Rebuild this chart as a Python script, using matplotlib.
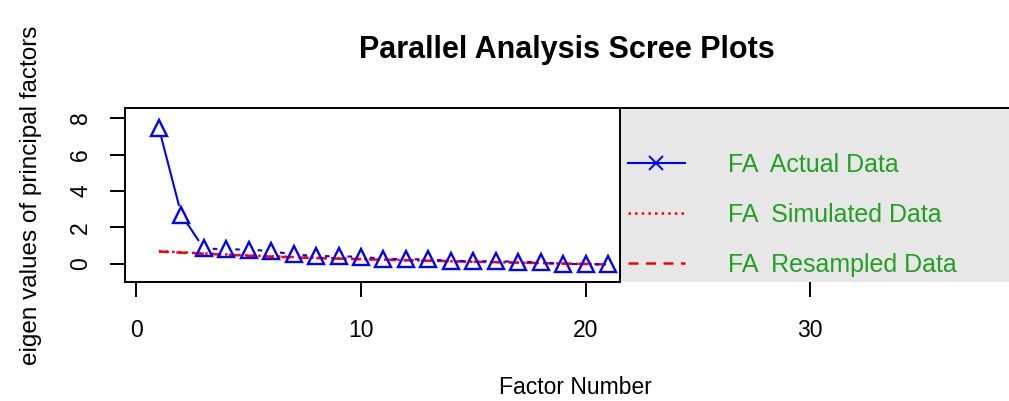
import numpy as np
import matplotlib
matplotlib.use("Agg")
import matplotlib.pyplot as plt
from matplotlib.lines import Line2D

plt.rcParams['font.family'] = ['Liberation Sans', 'DejaVu Sans']

# values
factors = list(range(1, 22))
fa_actual = [7.45, 2.70, 0.85, 0.80, 0.79, 0.70, 0.52, 0.43, 0.42, 0.39, 0.28,
             0.26, 0.25, 0.16, 0.15, 0.14, 0.13, 0.08, 0.00, -0.01, -0.02]
fa_simulated = [0.70, 0.64, 0.58, 0.52, 0.47, 0.42, 0.38, 0.34, 0.30, 0.27, 0.24,
                0.21, 0.18, 0.15, 0.12, 0.10, 0.07, 0.05, 0.02, 0.00, -0.03]
fa_resampled = [0.68, 0.62, 0.56, 0.50, 0.45, 0.40, 0.36, 0.32, 0.29, 0.26, 0.23,
                0.20, 0.18, 0.15, 0.12, 0.10, 0.07, 0.05, 0.02, 0.00, -0.03]
x_ticks = [0, 10, 20, 30]
y_ticks = [0, 2, 4, 6, 8]
legend_labels = ["FA  Actual Data", "FA  Simulated Data", "FA  Resampled Data"]

W, H = 1009, 401
fig = plt.figure(figsize=(W / 100, H / 100), dpi=100)
ax = fig.add_axes([125 / W, 1 - 282 / H, (W - 125) / W, (282 - 108) / H])

x_lo, x_hi = -0.51, 38.86
box_right = 21.54
ax.set_xlim(x_lo, x_hi)
ax.set_ylim(-0.99, 8.55)

# grey legend area and right edge of the plot box
ax.axvspan(box_right, x_hi, facecolor='#e7e7e7', edgecolor='none', zorder=0)
ax.axvline(box_right, color='black', lw=1.4, zorder=3)

ax.plot(factors, fa_simulated, color='red', ls=':', lw=1.8, zorder=2)
ax.plot(factors, fa_resampled, color='red', ls=(0, (4, 3)), lw=1.8, zorder=2)

# type="b" style: segments with gaps around the points
fig.canvas.draw()
pts = ax.transData.transform(np.column_stack([factors, fa_actual]))
inv = ax.transData.inverted()
gap = 10.0
for p0, p1 in zip(pts[:-1], pts[1:]):
    d = p1 - p0
    L = np.hypot(*d)
    if L > 2 * gap:
        a = inv.transform(p0 + d / L * gap)
        b = inv.transform(p1 - d / L * gap)
        ax.plot([a[0], b[0]], [a[1], b[1]], color='blue', lw=1.5, zorder=2)
ax.plot(factors, fa_actual, ls='none', marker='^', ms=12, mfc='none',
        mec='blue', mew=1.7, zorder=4)

for side in ['right', 'left', 'bottom', 'top']:
    ax.spines[side].set_linewidth(1.4)
ax.spines['right'].set_visible(False)
ax.spines['bottom'].set_bounds(x_lo, box_right)

ax.set_xticks(x_ticks)
ax.set_yticks(y_ticks)
ax.set_yticklabels([str(v) for v in y_ticks], rotation=90, va='center')
ax.tick_params(length=10.5, width=1.4, labelsize=16.5)
ax.tick_params(axis='x', pad=16)
ax.tick_params(axis='y', pad=13)

ax.set_xlabel("Factor Number", fontsize=16.5)
ax.xaxis.set_label_coords(0.51, -0.54)
ax.set_ylabel("eigen values of principal factors", fontsize=17.5, labelpad=20)
ax.set_title("Parallel Analysis Scree Plots", fontsize=22, fontweight='bold', pad=36)

handles = [
    Line2D([], [], color='blue', lw=1.5, marker='x', ms=10, mew=1.4),
    Line2D([], [], color='red', lw=1.8, ls=':'),
    Line2D([], [], color='red', lw=1.8, ls=(0, (4, 3))),
]
ax.legend(handles, legend_labels, loc='upper left',
          bbox_to_anchor=(620 / W, 1 - 145 / H), bbox_transform=fig.transFigure,
          frameon=False, fontsize=18, labelcolor='#22a022', numpoints=1,
          handlelength=2.3, handletextpad=1.7, borderpad=0.3,
          borderaxespad=0, labelspacing=1.05)

fig.savefig("out.png", dpi=100)
